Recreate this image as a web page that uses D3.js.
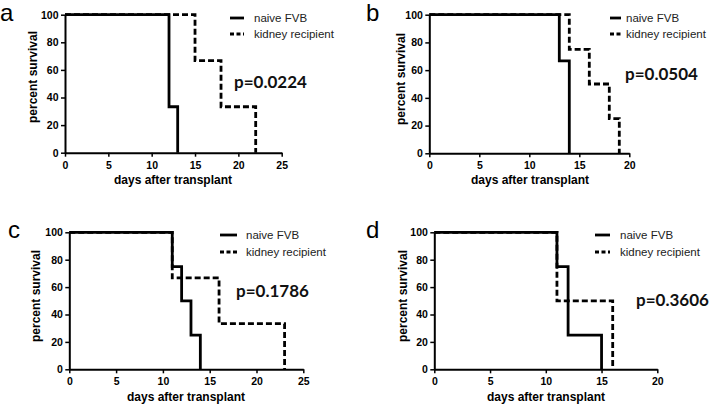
<!DOCTYPE html>
<html><head><meta charset="utf-8">
<script src="https://cdn.jsdelivr.net/npm/d3@7"></script>
<style>body{margin:0;background:#fff}svg{display:block}</style>
</head><body>
<script>
// ---- data ----
const panelLetters = ["a", "b", "c", "d"];
const pValues = ["p=0.0224", "p=0.0504", "p=0.1786", "p=0.3606"];
const seriesNames = ["naive FVB", "kidney recipient"];
const xMaxes = [25, 20, 25, 20];
const xTicksA = [0, 5, 10, 15, 20, 25];
const xTicksB = [0, 5, 10, 15, 20];
const yTicks = [0, 20, 40, 60, 80, 100];

const naiveDaysA = [0, 12, 13];        const naiveSurvA = [100, 33.3, 0];
const kidneyDaysA = [0, 15, 18, 22];   const kidneySurvA = [100, 66.7, 33.3, 0];
const naiveDaysB = [0, 13, 14];        const naiveSurvB = [100, 66.7, 0];
const kidneyDaysB = [0, 14, 16, 18, 19]; const kidneySurvB = [100, 75, 50, 25, 0];
const naiveDaysC = [0, 11, 12, 13, 14]; const naiveSurvC = [100, 75, 50, 25, 0];
const kidneyDaysC = [0, 11, 16, 23];   const kidneySurvC = [100, 66.7, 33.3, 0];
const naiveDaysD = [0, 11, 12, 15];    const naiveSurvD = [100, 75, 25, 0];
const kidneyDaysD = [0, 11, 16];       const kidneySurvD = [100, 50, 0];

const zip = (d, s) => d.map((v, i) => ({ day: v, surv: s[i] }));

// ---- layout ----
const panels = [
  { x0: 65, x1: 281.7, y0: 152.7, y1: 14.7, ticks: xTicksA, naive: zip(naiveDaysA, naiveSurvA), kidney: zip(kidneyDaysA, kidneySurvA),
    letter: [0, 21], legend: [230, 244, 254, 18, 34], p: [234, 88], ytitle: [33, 77], xtitle: [173, 184] },
  { x0: 429.3, x1: 629.3, y0: 153.3, y1: 14.7, ticks: xTicksB, naive: zip(naiveDaysB, naiveSurvB), kidney: zip(kidneyDaysB, kidneySurvB),
    letter: [366, 21], legend: [610, 621, 626, 18, 34], p: [625, 80], ytitle: [401, 79], xtitle: [530, 184] },
  { x0: 69.3, x1: 303.3, y0: 369.3, y1: 232.3, ticks: xTicksA, naive: zip(naiveDaysC, naiveSurvC), kidney: zip(kidneyDaysC, kidneySurvC),
    letter: [8, 238], legend: [220, 237, 246, 235, 252], p: [236, 297], ytitle: [36, 296], xtitle: [186, 401] },
  { x0: 434.3, x1: 657.3, y0: 369.3, y1: 232.3, ticks: xTicksB, naive: zip(naiveDaysD, naiveSurvD), kidney: zip(kidneyDaysD, kidneySurvD),
    letter: [366, 238], legend: [595, 610, 620, 235, 252], p: [636, 306], ytitle: [403, 296], xtitle: [546, 401] }
];

const W = 709, H = 404;
const svg = d3.select("body").append("svg").attr("width", W).attr("height", H);
const DASH = "6,3";
const SANS = "Liberation Sans, Arial, sans-serif";

panels.forEach((P, i) => {
  const g = svg.append("g");
  const x = d3.scaleLinear().domain([0, xMaxes[i]]).range([P.x0, P.x1]);
  const y = d3.scaleLinear().domain([0, 100]).range([P.y0, P.y1]);

  const xa = g.append("g").attr("transform", `translate(0,${P.y0})`)
    .call(d3.axisBottom(x).tickValues(P.ticks).tickSize(4).tickSizeOuter(0).tickFormat(d3.format("d")));
  const ya = g.append("g").attr("transform", `translate(${P.x0},0)`)
    .call(d3.axisLeft(y).tickValues(yTicks).tickSize(4).tickSizeOuter(0).tickFormat(d3.format("d")));
  [xa, ya].forEach(a => {
    a.select(".domain").attr("stroke", "#000").attr("stroke-width", 2);
    a.selectAll(".tick line").attr("stroke", "#000").attr("stroke-width", 1.5);
    a.selectAll(".tick text").attr("fill", "#000").attr("font-family", SANS)
      .attr("font-weight", "bold").attr("font-size", 10.5);
  });
  xa.selectAll(".tick text").attr("dy", "0.85em");
  ya.selectAll(".tick text").attr("dx", "0.05em");

  const line = d3.line().x(d => x(d.day)).y(d => y(d.surv)).curve(d3.curveStepAfter);
  g.append("path").datum(P.kidney).attr("d", line).attr("fill", "none").attr("stroke", "#000")
    .attr("stroke-width", 2.8).attr("stroke-dasharray", DASH);
  g.append("path").datum(P.naive).attr("d", line).attr("fill", "none").attr("stroke", "#000")
    .attr("stroke-width", 2.8);

  // panel letter
  g.append("text").attr("x", P.letter[0]).attr("y", P.letter[1]).text(panelLetters[i])
    .attr("font-family", SANS).attr("font-size", 24).attr("fill", "#000");

  // axis titles
  g.append("text").attr("x", P.xtitle[0]).attr("y", P.xtitle[1]).attr("text-anchor", "middle")
    .text("days after transplant").attr("font-family", SANS)
    .attr("font-weight", "bold").attr("font-size", 12).attr("fill", "#000");
  g.append("text").attr("transform", `translate(${P.ytitle[0]},${P.ytitle[1]}) rotate(-90)`)
    .attr("text-anchor", "middle").attr("dy", "0.35em")
    .text("percent survival").attr("font-family", SANS)
    .attr("font-weight", "bold").attr("font-size", 12).attr("fill", "#000");

  // legend
  const L = P.legend;
  [0, 1].forEach(k => {
    const yy = L[3 + k];
    g.append("line").attr("x1", L[0]).attr("x2", L[1]).attr("y1", yy).attr("y2", yy)
      .attr("stroke", "#000").attr("stroke-width", 2.8).attr("stroke-dasharray", k ? "4,2.5" : null);
    g.append("text").attr("x", L[2]).attr("y", yy).attr("dy", "0.35em").text(seriesNames[k])
      .attr("font-family", SANS).attr("font-size", 11.5).attr("fill", "#222");
  });

  // p-value
  g.append("text").attr("x", P.p[0]).attr("y", P.p[1]).text(pValues[i])
    .attr("font-family", "Lato, 'Open Sans', sans-serif").attr("font-weight", "bold")
    .attr("font-size", 17).attr("fill", "#111");
});
</script>
</body></html>
